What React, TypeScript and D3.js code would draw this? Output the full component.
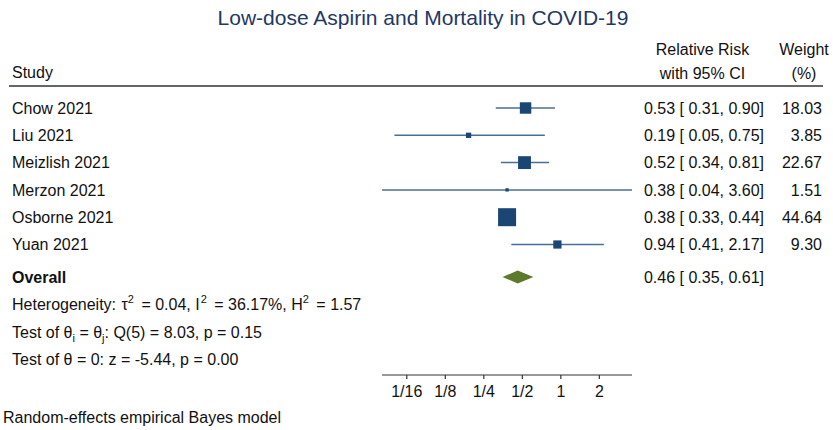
import React from "react";
import * as d3 from "d3";

const studies = ["Chow 2021", "Liu 2021", "Meizlish 2021", "Merzon 2021", "Osborne 2021", "Yuan 2021"];
const rr = [0.53, 0.19, 0.52, 0.38, 0.38, 0.94];
const lower = [0.31, 0.05, 0.34, 0.04, 0.33, 0.41];
const upper = [0.90, 0.75, 0.81, 3.60, 0.44, 2.17];
const weights = [18.03, 3.85, 22.67, 1.51, 44.64, 9.30];
const overall = { rr: 0.46, lo: 0.35, hi: 0.61 };
const tickValues = [1 / 16, 1 / 8, 1 / 4, 1 / 2, 1, 2];
const tickLabels = ["1/16", "1/8", "1/4", "1/2", "1", "2"];

const FONT = "'Liberation Sans', Arial, Helvetica, sans-serif";

export default function App() {
  const W = 833, H = 430;
  const FS = 16;
  const SUP = 11;
  const x = d3.scaleLog().base(2).domain([0.04, 3.6]).range([382, 632]);
  const y = d3.scalePoint<string>().domain(studies).range([108, 244.5]);
  const size = d3.scaleSqrt().domain([0, 44.64]).range([0, 18]);
  const f2 = d3.format(".2f");
  const ciText = (r: number, l: number, h: number) => `${f2(r)} [ ${f2(l)},  ${f2(h)}]`;

  const sqColor = "#1b4674";
  const lineColor = "#4a6f96";
  const diamondColor = "#5b7a2c";
  const textColor = "#111";
  const yOverall = 277;
  const axisY = 375;

  const diamond = d3.line<[number, number]>()([
    [x(overall.lo), yOverall],
    [x(overall.rr), yOverall - 6.5],
    [x(overall.hi), yOverall],
    [x(overall.rr), yOverall + 6.5],
    [x(overall.lo), yOverall],
  ]);

  return (
    <svg width={W} height={H} style={{ position: "absolute", left: 0, top: 0, background: "#fff" }} fontFamily={FONT}>
      <rect width={W} height={H} fill="#fff" />
      <text x={423} y={25} textAnchor="middle" fontSize={21} fill="#1f3864">
        Low-dose Aspirin and Mortality in COVID-19
      </text>

      {/* headers */}
      <g fontSize={FS} fill={textColor}>
        <text x={12} y={78}>Study</text>
        <text x={702.5} y={55}>
          <tspan textAnchor="middle">Relative Risk</tspan>
        </text>
        <text x={702.5} y={79} textAnchor="middle">with 95% CI</text>
        <text x={804} y={55} textAnchor="middle">Weight</text>
        <text x={804} y={79} textAnchor="middle">(%)</text>
      </g>
      <line x1={9} x2={823} y1={86} y2={86} stroke="#333" strokeWidth={1.6} />

      {/* study rows */}
      {studies.map((s, i) => {
        const yy = y(s)!;
        const sz = size(weights[i]);
        return (
          <g key={s}>
            <text x={12} y={yy} dy="0.35em" fontSize={FS} fill={textColor}>{s}</text>
            <line x1={x(lower[i])} x2={x(upper[i])} y1={yy} y2={yy} stroke={lineColor} strokeWidth={1.5} />
            <rect x={x(rr[i]) - sz / 2} y={yy - sz / 2} width={sz} height={sz} fill={sqColor} />
            <text x={764} y={yy} dy="0.35em" textAnchor="end" fontSize={FS} fill={textColor}>
              {ciText(rr[i], lower[i], upper[i])}
            </text>
            <text x={822} y={yy} dy="0.35em" textAnchor="end" fontSize={FS} fill={textColor}>
              {f2(weights[i])}
            </text>
          </g>
        );
      })}

      {/* overall */}
      <text x={12} y={yOverall} dy="0.35em" fontSize={FS} fontWeight="bold" fill={textColor}>Overall</text>
      <path d={diamond ?? ""} fill={diamondColor} />
      <text x={764} y={yOverall} dy="0.35em" textAnchor="end" fontSize={FS} fill={textColor}>
        {ciText(overall.rr, overall.lo, overall.hi)}
      </text>

      {/* stats */}
      <g fontSize={FS} fill={textColor}>
        <text x={12} y={304} dy="0.35em">
          Heterogeneity: <tspan dx={1}>τ</tspan>
          <tspan fontSize={SUP} dy={-7}>2</tspan>
          <tspan dy={7} dx={3}> = 0.04, I</tspan>
          <tspan fontSize={SUP} dy={-7} dx={1}>2</tspan>
          <tspan dy={7} dx={3}> = 36.17%, H</tspan>
          <tspan fontSize={SUP} dy={-7}>2</tspan>
          <tspan dy={7} dx={3}> = 1.57</tspan>
        </text>
        <text x={12} y={332} dy="0.35em">
          Test of θ<tspan fontSize={SUP} dy={4}>i</tspan>
          <tspan dy={-4}> = θ</tspan>
          <tspan fontSize={SUP} dy={4}>j</tspan>
          <tspan dy={-4}>: Q(5) = 8.03, p = 0.15</tspan>
        </text>
        <text x={12} y={359} dy="0.35em">Test of θ = 0: z = -5.44, p = 0.00</text>
      </g>

      {/* axis */}
      <line x1={x.range()[0]} x2={x.range()[1]} y1={axisY} y2={axisY} stroke="#333" strokeWidth={1.2} />
      {tickValues.map((t, i) => (
        <g key={t}>
          <line x1={x(t)} x2={x(t)} y1={axisY} y2={axisY + 4} stroke="#333" strokeWidth={1.2} />
          <text x={x(t)} y={axisY + 16} dy="0.35em" textAnchor="middle" fontSize={FS} fill={textColor}>
            {tickLabels[i]}
          </text>
        </g>
      ))}

      <text x={3} y={417} dy="0.35em" fontSize={FS} fill={textColor}>Random-effects empirical Bayes model</text>
    </svg>
  );
}
